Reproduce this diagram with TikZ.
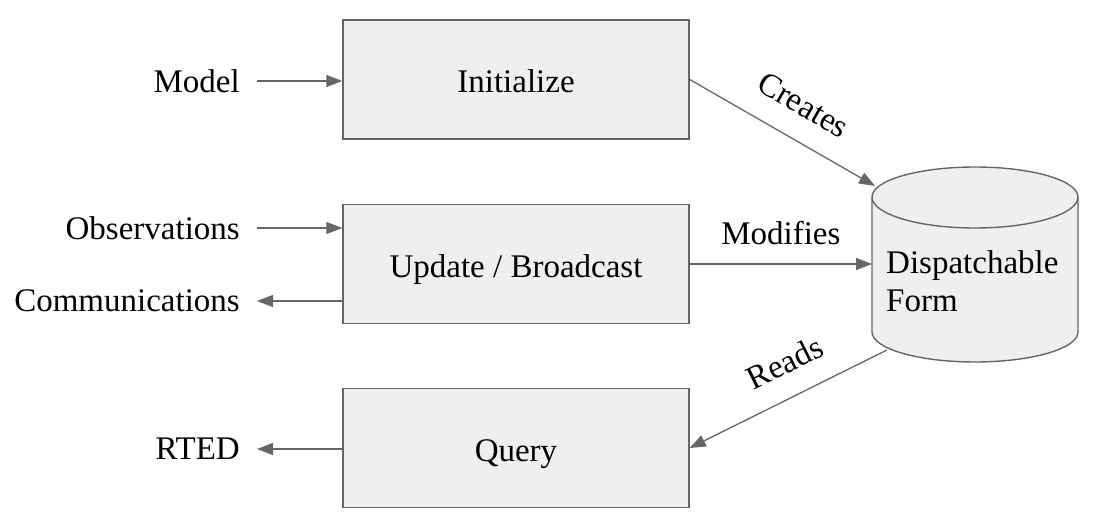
\documentclass[tikz,border=0pt]{standalone}
\usepackage{fontspec}
\setmainfont{Liberation Serif}
\usepackage{tikz}
\usetikzlibrary{arrows.meta}
\definecolor{linegray}{HTML}{666666}
\definecolor{boxgray}{HTML}{EFEFEF}

\begin{document}
\begin{tikzpicture}[x=1pt,y=1pt,
    font=\fontsize{33}{38}\selectfont,
    stage/.style={draw=linegray, fill=boxgray, line width=1.4pt, minimum width=346pt, minimum height=119pt,
                  text height=27pt, text depth=0pt},
    flow/.style={draw=linegray, line width=1.3pt, -{Triangle[length=16pt,width=12pt]}},
    io/.style={anchor=east, inner sep=0pt},
    lbl/.style={inner sep=0pt, sloped}]
    \useasboundingbox (0,0) rectangle (1093,-524);
    % Draw the three stages
    \node[stage] (init) at (516,-79.5) {Initialize};
    \node[stage] (update) at (516,-264) {Update / Broadcast};
    \node[stage] (query) at (516,-448) {Query};
    % Draw the store as a cylinder
    \filldraw[draw=linegray, fill=boxgray, line width=1.4pt]
        (872,-197) -- (872,-332) arc[start angle=180, end angle=360, x radius=103, y radius=30]
        -- (1078,-197) arc[start angle=0, end angle=180, x radius=103, y radius=30] -- cycle;
    \draw[linegray, line width=1.4pt] (872,-197) arc[start angle=180, end angle=360, x radius=103, y radius=31];
    \node[anchor=base west, align=left, inner sep=0pt] (dform) at (886,-311) {Dispatchable\\Form};
    \coordinate (dformtop) at (875,-186);
    \coordinate (dformwest) at (872,-264);
    \coordinate (dformbot) at (887,-350);
    % Inputs and outputs
    \node[io] (model) at (240,-81) {Model};
    \node[io] (obs) at (240,-228) {Observations};
    \node[io] (comms) at (240,-301) {Communications};
    \node[io] (rted) at (240,-449) {RTED};
    \draw[flow] ([xshift=17pt]model.east) -- (model.east -| init.west);
    \draw[flow] ([xshift=17pt]obs.east) -- (obs.east -| update.west);
    \draw[flow] (comms.east -| update.west) -- ([xshift=17pt]comms.east);
    \draw[flow] (rted.east -| query.west) -- ([xshift=17pt]rted.east);
    % Connections to the store
    \draw[flow] (init.east) -- node[lbl, above=23pt, pos=0.52] {Creates} (dformtop);
    \draw[flow] (update.east) -- node[lbl, above=19pt] {Modifies} (dformwest);
    \draw[flow] (dformbot) -- node[lbl, above=22pt, pos=0.44] {Reads} (query.east);
\end{tikzpicture}
\end{document}
